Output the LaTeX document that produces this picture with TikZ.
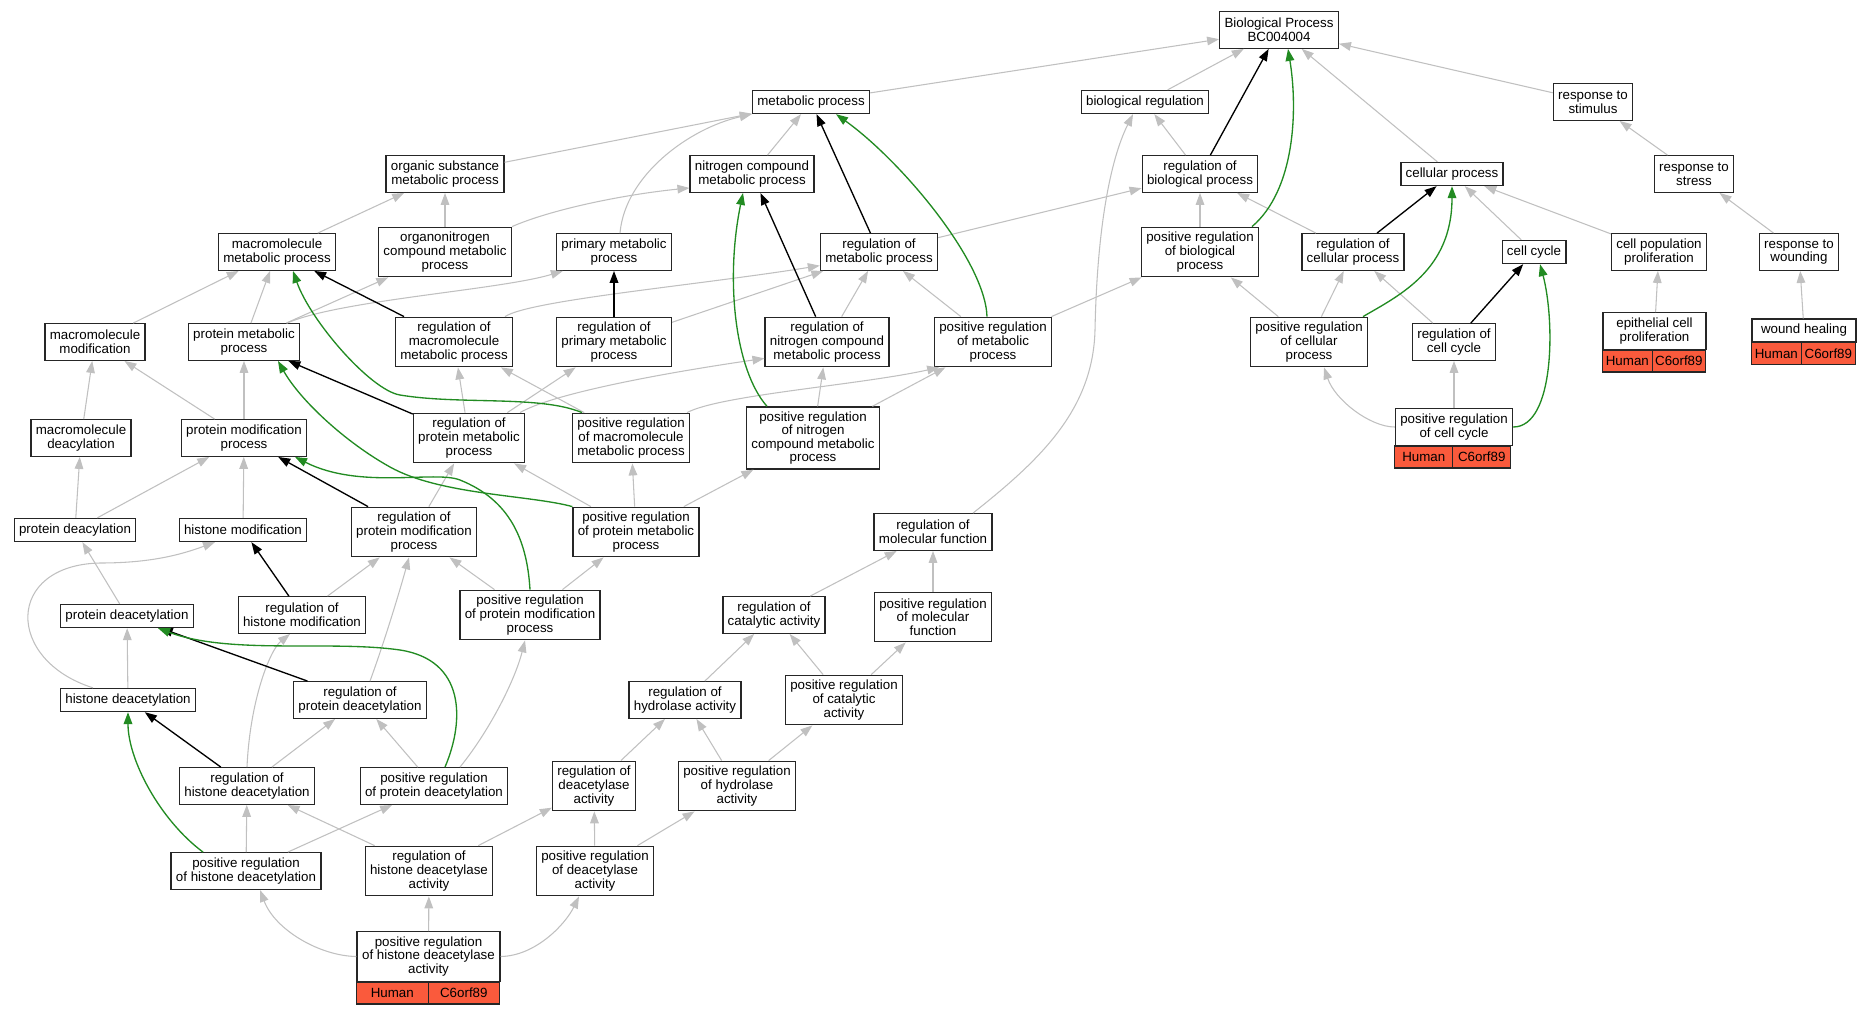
\documentclass[tikz,border=0pt]{standalone}
\usepackage{fontspec}
\setmainfont{Liberation Sans}
\usetikzlibrary{arrows.meta}
\definecolor{edgegray}{HTML}{C0C0C0}
\definecolor{posgreen}{HTML}{228B22}
\definecolor{genered}{HTML}{FA5A3C}
\begin{document}
\begin{tikzpicture}[x=0.75pt, y=-0.75pt,
  term/.style={draw=black!85, line width=1pt, align=center, inner xsep=3.6pt, inner ysep=1.5pt,
    minimum height=17.25pt, font=\fontsize{10}{10.2}\selectfont},
  rows2/.style={minimum height=27.4pt},
  rows3/.style={minimum height=37.1pt},
  rows4/.style={minimum height=46.5pt},
  gene/.style={draw=black!85, line width=0.9pt, fill=genered, inner sep=0pt, outer sep=0pt,
    minimum height=16.5pt, font=\fontsize{10}{10.2}\selectfont},
  isa/.style={edgegray, line width=0.8pt, -{Triangle[length=9pt,width=6.5pt]}},
  regs/.style={black, line width=1pt, -{Triangle[length=9pt,width=6.5pt]}},
  posregs/.style={posgreen, line width=1pt, -{Triangle[length=9pt,width=6.5pt]}}]

\useasboundingbox (0,0) rectangle (1872,1013);

% Nivel superior
\node[term, rows2] (bp) at (1279,30) {Biological Process\\BC004004};
\node[term] (metab) at (811,102) {metabolic process};
\node[term] (bioreg) at (1145,102) {biological regulation};
\node[term, rows2] (stim) at (1593,102) {response to\\stimulus};

\node[term, rows2] (orgsub) at (445,174) {organic substance\\metabolic process};
\node[term, rows2] (nitro) at (752,174) {nitrogen compound\\metabolic process};
\node[term, rows2] (regbio) at (1200,174) {regulation of\\biological process};
\node[term] (cellp) at (1452,174) {cellular process};
\node[term, rows2] (stress) at (1694,174) {response to\\stress};

\node[term, rows2] (macmet) at (277,252) {macromolecule\\metabolic process};
\node[term, rows3] (orgnit) at (445,252) {organonitrogen\\compound metabolic\\process};
\node[term, rows2] (primet) at (614,252) {primary metabolic\\process};
\node[term, rows2] (regmet) at (879,252) {regulation of\\metabolic process};
\node[term, rows3] (posbio) at (1200,252) {positive regulation\\of biological\\process};
\node[term, rows2] (regcell) at (1353,252) {regulation of\\cellular process};
\node[term] (cycle) at (1534,252) {cell cycle};
\node[term, rows2] (popprol) at (1659,252) {cell population\\proliferation};
\node[term, rows2] (wound) at (1799,252) {response to\\wounding};

\node[term, rows2] (macmod) at (95,342) {macromolecule\\modification};
\node[term, rows2] (protmet) at (244,342) {protein metabolic\\process};
\node[term, rows3] (regmac) at (454,342) {regulation of\\macromolecule\\metabolic process};
\node[term, rows3] (regpri) at (614,342) {regulation of\\primary metabolic\\process};
\node[term, rows3] (regnit) at (827,342) {regulation of\\nitrogen compound\\metabolic process};
\node[term, rows3] (posmet) at (993,342) {positive regulation\\of metabolic\\process};
\node[term, rows3] (poscell) at (1309,342) {positive regulation\\of cellular\\process};
\node[term, rows2] (regcyc) at (1454,342) {regulation of\\cell cycle};

% Terminos anotados (Human / C6orf89)
\node[term, rows2, minimum width=77.25pt] (epi) at (1654.5,331) {epithelial cell\\proliferation};
\node[gene, minimum width=37.5pt, anchor=north west] (epi-sp) at (epi.south west) {Human};
\node[gene, minimum width=39.75pt, anchor=west] (epi-gn) at (epi-sp.east) {C6orf89};
\node[term, minimum width=78pt] (heal) at (1804,330.5) {wound healing};
\node[gene, minimum width=37.5pt, anchor=north west] (heal-sp) at (heal.south west) {Human};
\node[gene, minimum width=40.5pt, anchor=west] (heal-gn) at (heal-sp.east) {C6orf89};
\node[term, rows2, minimum width=87pt] (poscyc) at (1454,427) {positive regulation\\of cell cycle};
\node[gene, minimum width=43.5pt, anchor=north west] (poscyc-sp) at (poscyc.south west) {Human};
\node[gene, minimum width=43.5pt, anchor=west] (poscyc-gn) at (poscyc-sp.east) {C6orf89};

\node[term, rows2] (macdeac) at (81,438) {macromolecule\\deacylation};
\node[term, rows2] (protmod) at (244,438) {protein modification\\process};
\node[term, rows3] (regprotmet) at (469,438) {regulation of\\protein metabolic\\process};
\node[term, rows3] (posmac) at (631,438) {positive regulation\\of macromolecule\\metabolic process};
\node[term, rows4] (posnit) at (813,438) {positive regulation\\of nitrogen\\compound metabolic\\process};

\node[term] (protdeacyl) at (75,530) {protein deacylation};
\node[term] (histmod) at (243,530) {histone modification};
\node[term, rows3] (regprotmod) at (414,532) {regulation of\\protein modification\\process};
\node[term, rows3] (posprotmet) at (636,532) {positive regulation\\of protein metabolic\\process};
\node[term, rows2] (regmf) at (933,532) {regulation of\\molecular function};

\node[term] (protdeac) at (127,616) {protein deacetylation};
\node[term, rows2] (reghistmod) at (302,615) {regulation of\\histone modification};
\node[term, rows3] (posprotmod) at (530,615) {positive regulation\\of protein modification\\process};
\node[term, rows2] (regcat) at (774,615) {regulation of\\catalytic activity};
\node[term, rows3] (posmf) at (933,617) {positive regulation\\of molecular\\function};

\node[term] (histdeac) at (128,700) {histone deacetylation};
\node[term, rows2] (regprotdeac) at (360,700) {regulation of\\protein deacetylation};
\node[term, rows2] (reghyd) at (685,700) {regulation of\\hydrolase activity};
\node[term, rows3] (poscat) at (844,700) {positive regulation\\of catalytic\\activity};

\node[term, rows2] (reghistdeac) at (247,786) {regulation of\\histone deacetylation};
\node[term, rows2] (posprotdeac) at (434,786) {positive regulation\\of protein deacetylation};
\node[term, rows3] (regdeacact) at (594,786) {regulation of\\deacetylase\\activity};
\node[term, rows3] (poshyd) at (737,786) {positive regulation\\of hydrolase\\activity};

\node[term, rows2] (poshistdeac) at (246,871) {positive regulation\\of histone deacetylation};
\node[term, rows3] (reghdacact) at (429,871) {regulation of\\histone deacetylase\\activity};
\node[term, rows3] (posdeacact) at (595,871) {positive regulation\\of deacetylase\\activity};

\node[term, rows3, minimum width=107.25pt] (poshdacact) at (428.5,956.5) {positive regulation\\of histone deacetylase\\activity};
\node[gene, minimum width=54pt, anchor=north west] (poshdacact-sp) at (poshdacact.south west) {Human};
\node[gene, minimum width=53.25pt, anchor=west] (poshdacact-gn) at (poshdacact-sp.east) {C6orf89};

% Aristas is_a (gris)
\draw[isa] (metab) -- (bp);
\draw[isa] (bioreg) -- (bp);
\draw[isa] (cellp) -- (bp);
\draw[isa] (stim) -- (bp);
\draw[isa] (orgsub) -- (metab);
\draw[isa] (nitro) -- (metab);
\draw[isa] ([xshift=4.5pt]primet.north) .. controls (625,175) and (690,128) .. (metab.south west);
\draw[isa] (regbio) -- (bioreg);
\draw[isa] ([xshift=30pt]regmf.north) .. controls (1040,460) and (1093,410) .. (1095,330)
  .. controls (1097,230) and (1110,160) .. ([xshift=-9pt]bioreg.south);
\draw[isa] (stress) -- (stim);
\draw[isa] (wound) -- (stress);
\draw[isa] (heal) -- (wound);
\draw[isa] (epi) -- (popprol);
\draw[isa] (popprol) -- (cellp);
\draw[isa] (cycle) -- (cellp);
\draw[isa] (regmet) -- (regbio);
\draw[isa] (posbio) -- (regbio);
\draw[isa] (regcell) -- (regbio);
\draw[isa] (macmet) -- (orgsub);
\draw[isa] (orgnit) -- (orgsub);
\draw[isa] (orgnit.north east) .. controls (550,210) and (620,195) .. ([yshift=3.75pt]nitro.south west);
\draw[isa] (macmod) -- (macmet);
\draw[isa] (protmet) -- (macmet);
\draw[isa] (protmet) -- (orgnit);
\draw[isa] ([xshift=32.25pt]protmet.north) .. controls (340,300) and (500,290) .. ([xshift=5.25pt]primet.south west);
\draw[isa] ([xshift=38.25pt]regmac.north) .. controls (530,300) and (700,285) .. ([yshift=4pt]regmet.south west);
\draw[isa] (regpri) -- (regmet);
\draw[isa] (regnit) -- (regmet);
\draw[isa] (posmet) -- (regmet);
\draw[isa] (posmet) -- (posbio);
\draw[isa] (poscell) -- (posbio);
\draw[isa] (poscell) -- (regcell);
\draw[isa] (regcyc) -- (regcell);
\draw[isa] (poscyc) -- (regcyc);
\draw[isa] (poscyc.west) .. controls (1370,427) and (1335,400) .. ([xshift=11.25pt]poscell.south);
\draw[isa] (macdeac) -- (macmod);
\draw[isa] (protmod) -- (macmod);
\draw[isa] (protmod) -- (protmet);
\draw[isa] (regprotmet) -- (regmac);
\draw[isa] (posmac) -- (regmac);
\draw[isa] (regprotmet) -- (regpri);
\draw[isa] ([xshift=38.25pt]regprotmet.north) .. controls (550,395) and (650,375) .. ([yshift=6.75pt]regnit.south west);
\draw[isa] (posnit) -- (regnit);
\draw[isa] (posnit) -- (posmet);
\draw[isa] ([xshift=42pt]posmac.north) .. controls (720,395) and (860,385) .. ([xshift=4pt]posmet.south west);
\draw[isa] (protdeacyl) -- (macdeac);
\draw[isa] (protdeacyl) -- (protmod);
\draw[isa] (histmod) -- (protmod);
\draw[isa] (regprotmod) -- (regprotmet);
\draw[isa] (posprotmet) -- (regprotmet);
\draw[isa] (posprotmet) -- (posmac);
\draw[isa] (posprotmet) -- (posnit);
\draw[isa] (protdeac) -- (protdeacyl);
\draw[isa] (histdeac) -- (protdeac);
\draw[isa] ([xshift=-26.25pt]histdeac.north) .. controls (5,660) and (5,565) .. (100,563)
  .. controls (150,563) and (180,555) .. ([xshift=-21pt]histmod.south);
\draw[isa] (reghistmod) -- (regprotmod);
\draw[isa] (posprotmod) -- (regprotmod);
\draw[isa] ([xshift=7.5pt]regprotdeac.north) .. controls (385,640) and (400,590) .. ([xshift=-3.75pt]regprotmod.south);
\draw[isa] (posprotmod) -- (posprotmet);
\draw[isa] (regcat) -- (regmf);
\draw[isa] (posmf) -- (regmf);
\draw[isa] (poscat) -- (posmf);
\draw[isa] (reghyd) -- (regcat);
\draw[isa] (poscat) -- (regcat);
\draw[isa] (reghistdeac.north) .. controls (250,700) and (270,650) .. ([xshift=-9pt]reghistmod.south);
\draw[isa] ([xshift=19.5pt]posprotdeac.north) .. controls (490,730) and (515,680) .. ([xshift=-3.75pt]posprotmod.south);
\draw[isa] (reghistdeac) -- (regprotdeac);
\draw[isa] (posprotdeac) -- (regprotdeac);
\draw[isa] (regdeacact) -- (reghyd);
\draw[isa] (poshyd) -- (reghyd);
\draw[isa] (poshyd) -- (poscat);
\draw[isa] (poshistdeac) -- (reghistdeac);
\draw[isa] (reghdacact) -- (reghistdeac);
\draw[isa] (poshistdeac) -- (posprotdeac);
\draw[isa] (reghdacact) -- (regdeacact);
\draw[isa] (posdeacact) -- (regdeacact);
\draw[isa] (posdeacact) -- (poshyd);
\draw[isa] (poshdacact) -- (reghdacact);
\draw[isa] (poshdacact.west) .. controls (320,956) and (275,930) .. ([xshift=10.5pt]poshistdeac.south);
\draw[isa] (poshdacact.east) .. controls (535,956) and (565,925) .. ([xshift=-12pt]posdeacact.south);

% Aristas regulates (negro)
\draw[regs] (regbio) -- (bp);
\draw[regs] (regmet) -- (metab);
\draw[regs] (regnit) -- (nitro);
\draw[regs] (regpri) -- (primet);
\draw[regs] (regmac) -- (macmet);
\draw[regs] (regprotmet) -- (protmet);
\draw[regs] (regprotmod) -- (protmod);
\draw[regs] (reghistmod) -- (histmod);
\draw[regs] (regprotdeac) -- (protdeac);
\draw[regs] (reghistdeac) -- (histdeac);
\draw[regs] (regcell) -- (cellp);
\draw[regs] (regcyc) -- (cycle);

% Aristas positively regulates (verde)
\draw[posregs] ([xshift=39pt]posbio.north) .. controls (1295,190) and (1298,110) .. ([xshift=6.75pt]bp.south);
\draw[posregs] ([xshift=-4.5pt]posmet.north) .. controls (985,260) and (900,160) .. ([xshift=18.75pt]metab.south);
\draw[posregs] ([xshift=-34.5pt]posnit.north) .. controls (735,370) and (725,280) .. ([xshift=-6.75pt]nitro.south);
\draw[posregs] ([xshift=-36.75pt]posmac.north) .. controls (540,395) and (460,405) .. (400,395)
  .. controls (370,390) and (310,320) .. ([xshift=12pt]macmet.south);
\draw[posregs] (posprotmet.north west) .. controls (530,495) and (440,495) .. (390,467)
  .. controls (345,442) and (300,400) .. ([xshift=25.5pt]protmet.south);
\draw[posregs] (posprotmod.north) .. controls (527,540) and (510,500) .. (460,480)
  .. controls (435,470) and (360,490) .. ([xshift=38.25pt]protmod.south);
\draw[posregs] ([xshift=8.25pt]posprotdeac.north) .. controls (465,720) and (465,660) .. (400,650)
  .. controls (330,640) and (230,655) .. ([xshift=23.25pt]protdeac.south);
\draw[posregs] ([xshift=-32.25pt]poshistdeac.north) .. controls (160,820) and (128,760) .. (histdeac.south);
\draw[posregs] ([xshift=40.5pt]poscell.north) .. controls (1400,295) and (1452,270) .. (cellp.south);
\draw[posregs] (poscyc.east) .. controls (1555,427) and (1555,320) .. ([xshift=4.5pt]cycle.south);
\end{tikzpicture}
\end{document}
